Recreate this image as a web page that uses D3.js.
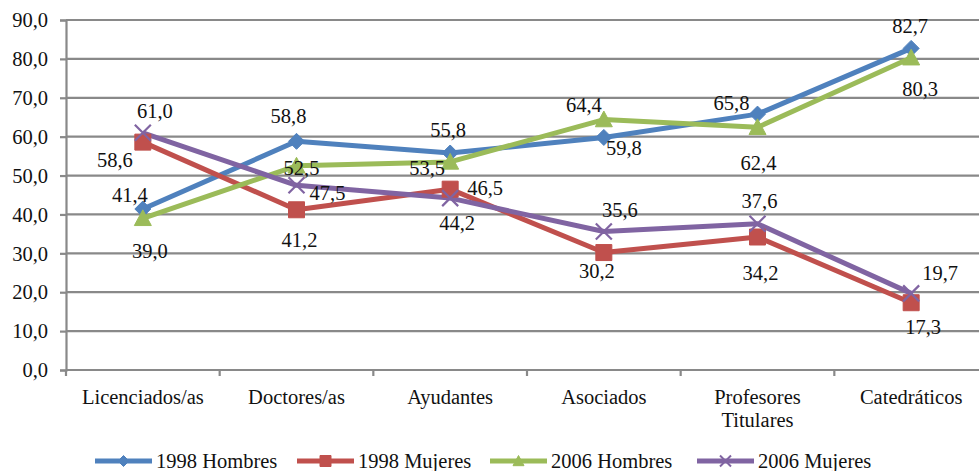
<!DOCTYPE html>
<html><head><meta charset="utf-8">
<script src="https://cdn.jsdelivr.net/npm/d3@7/dist/d3.min.js"></script>
<style>
html,body{margin:0;padding:0;background:#fff;}
svg text{font-family:"Liberation Serif","Times New Roman",serif;fill:#111;}
</style></head>
<body>
<svg id="chart" width="979" height="471"></svg>
<script>
const categories = ["Licenciados/as","Doctores/as","Ayudantes","Asociados","Profesores Titulares","Catedráticos"];
const seriesNames = ["1998 Hombres","1998 Mujeres","2006 Hombres","2006 Mujeres"];
const hombres1998 = [41.4, 58.8, 55.8, 59.8, 65.8, 82.7];
const mujeres1998 = [58.6, 41.2, 46.5, 30.2, 34.2, 17.3];
const hombres2006 = [39.0, 52.5, 53.5, 64.4, 62.4, 80.3];
const mujeres2006 = [61.0, 47.5, 44.2, 35.6, 37.6, 19.7];
const yTicks = [0,10,20,30,40,50,60,70,80,90];

// layout / style (not data)
const colors = ["#4F81BD","#C0504D","#9BBB59","#8064A2"];
const markers = ["diamond","square","triangle","x"];
// label nudges (dx, baseline dy) relative to each point
const labelOffsets = [
  [[-13,-7],[-8,-18],[-2,-16],[20,18],[-26,-4],[-1,-15]],
  [[-28,25],[3,37],[35,6],[-7,25],[3,43],[12,31]],
  [[7,40],[5,9],[-23,13],[-20,-8],[1,43],[9,38]],
  [[12,-15],[31,15],[7,32],[16,-15],[2,-16],[29,-13]]
];

const series = [hombres1998, mujeres1998, hombres2006, mujeres2006];
const svg = d3.select("#chart");
const mLeft = 66, mRight = 988, mTop = 20, mBottom = 370;

const x = d3.scaleBand().domain(categories).range([mLeft, mRight]);
const y = d3.scaleLinear().domain([0, 90]).range([mBottom, mTop]);
const cx = c => x(c) + x.bandwidth()/2;

// gridlines
svg.append("g").selectAll("line").data(yTicks.filter(t => t > 0)).join("line")
  .attr("x1", mLeft).attr("x2", 979).attr("y1", d => y(d)).attr("y2", d => y(d))
  .attr("stroke", "#898989").attr("stroke-width", 2.2);

// y axis
const yAxis = svg.append("g").attr("transform", `translate(${mLeft},0)`)
  .call(d3.axisLeft(y).tickValues(yTicks).tickSize(6).tickPadding(12)
    .tickFormat(d => d3.format(".1f")(d).replace(".", ",")));
yAxis.select(".domain").attr("stroke", "#898989").attr("stroke-width", 2.2);
yAxis.selectAll(".tick line").attr("stroke", "#898989").attr("stroke-width", 2.2);
yAxis.selectAll(".tick text").style("font-size", "20.5px").attr("dy", "0.33em");

// x axis
const xAxisG = svg.append("g").attr("transform", `translate(0,${mBottom})`);
xAxisG.append("line").attr("x1", mLeft).attr("x2", 979).attr("y1", 0).attr("y2", 0)
  .attr("stroke", "#898989").attr("stroke-width", 2.2);
const boundaries = categories.map(c => x(c)).concat([mRight]);
xAxisG.selectAll(".xt").data(boundaries).join("line").attr("class","xt")
  .attr("x1", d => d).attr("x2", d => d).attr("y1", 0).attr("y2", 6)
  .attr("stroke", "#898989").attr("stroke-width", 2.2);
xAxisG.selectAll(".xl").data(categories).join("text").attr("class","xl")
  .attr("text-anchor", "middle").style("font-size", "20.5px")
  .each(function(c){
    const words = c === "Profesores Titulares" ? ["Profesores","Titulares"] : [c];
    d3.select(this).selectAll("tspan").data(words).join("tspan")
      .attr("x", cx(c)).attr("y", (d,i) => 34 + i*23).text(d => d);
  });

function markerPath(type, s) {
  if (type === "diamond") return `M0,${-s}L${s},0L0,${s}L${-s},0Z`;
  if (type === "square") return `M${-s},${-s}H${s}V${s}H${-s}Z`;
  if (type === "triangle") return `M0,${-s}L${s},${s*0.85}H${-s}Z`;
  return `M${-s},${-s}L${s},${s}M${-s},${s}L${s},${-s}`;
}
const markerSize = [8, 8, 8.5, 8];

const line = d3.line().x((d,i) => cx(categories[i])).y(d => y(d));
series.forEach((vals, si) => {
  svg.append("g").append("path").datum(vals).attr("d", line).attr("fill","none")
    .attr("stroke", colors[si]).attr("stroke-width", 5).attr("stroke-linejoin","round");
});
series.forEach((vals, si) => {
  svg.append("g").selectAll("path.m").data(vals).join("path").attr("class","m")
    .attr("transform", (d,i) => `translate(${cx(categories[i])},${y(d)})`)
    .attr("d", markerPath(markers[si], markerSize[si]))
    .attr("fill", markers[si] === "x" ? "none" : colors[si])
    .attr("stroke", colors[si]).attr("stroke-width", markers[si] === "x" ? 2.2 : 1);
});
series.forEach((vals, si) => {
  svg.append("g").selectAll("text").data(vals).join("text")
    .attr("x", (d,i) => cx(categories[i]) + labelOffsets[si][i][0])
    .attr("y", (d,i) => y(d) + labelOffsets[si][i][1])
    .attr("text-anchor","middle").style("font-size","20.5px")
    .text(d => d3.format(".1f")(d).replace(".", ","));
});

// legend
const legendX = [95, 297, 490, 697];
const legendY = 461;
seriesNames.forEach((name, si) => {
  const g = svg.append("g").attr("transform", `translate(${legendX[si]},${legendY})`);
  g.append("line").attr("x1", 0).attr("x2", 57).attr("y1", 0).attr("y2", 0)
    .attr("stroke", colors[si]).attr("stroke-width", 5);
  g.append("path").attr("transform", "translate(28.5,0)")
    .attr("d", markerPath(markers[si], 5.5))
    .attr("fill", markers[si] === "x" ? "none" : colors[si])
    .attr("stroke", colors[si]).attr("stroke-width", markers[si] === "x" ? 2 : 1);
  g.append("text").attr("x", 61).attr("y", 7).style("font-size","20.5px").text(name);
});
</script>
</body></html>
